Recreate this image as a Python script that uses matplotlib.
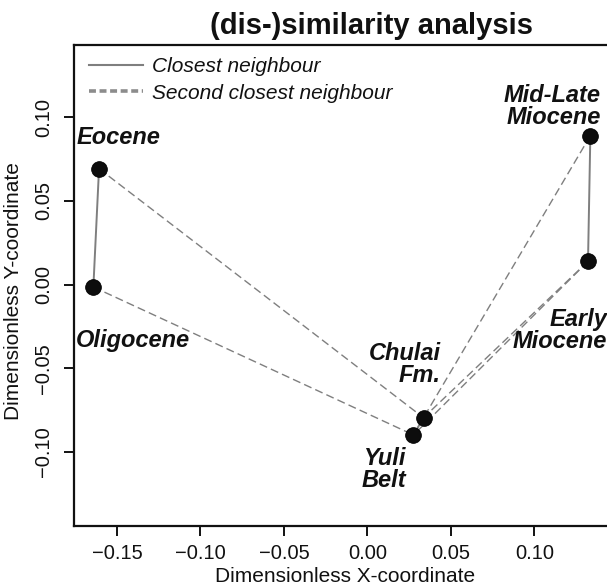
import matplotlib
matplotlib.use("Agg")
import matplotlib.pyplot as plt
from matplotlib.lines import Line2D

plt.rcParams['font.family'] = ['Liberation Sans', 'DejaVu Sans']
plt.rcParams['lines.scale_dashes'] = False

# ---- data ----
names = ["Eocene", "Oligocene", "Mid-Late Miocene", "Early Miocene", "Chulai Fm.", "Yuli Belt"]
labels = ["Eocene", "Oligocene", "Mid-Late\nMiocene", "Early\nMiocene", "Chulai\nFm.", "Yuli\nBelt"]
x_coord = [-0.1607, -0.1641, 0.1335, 0.1321, 0.0336, 0.0276]
y_coord = [0.0693, -0.0014, 0.0890, 0.0139, -0.0795, -0.0898]

closest_pairs = [("Eocene", "Oligocene"), ("Mid-Late Miocene", "Early Miocene"),
                 ("Chulai Fm.", "Yuli Belt")]
second_pairs = [("Eocene", "Chulai Fm."), ("Oligocene", "Yuli Belt"),
                ("Mid-Late Miocene", "Chulai Fm."), ("Early Miocene", "Chulai Fm."),
                ("Early Miocene", "Yuli Belt")]

x_ticks = [-0.15, -0.10, -0.05, 0.00, 0.05, 0.10]
x_tick_labels = ["\u22120.15", "\u22120.10", "\u22120.05", "0.00", "0.05", "0.10"]
y_ticks = [-0.10, -0.05, 0.00, 0.05, 0.10]
y_tick_labels = ["\u22120.10", "\u22120.05", "0.00", "0.05", "0.10"]

title = "(dis-)similarity analysis"
x_label = "Dimensionless X-coordinate"
y_label = "Dimensionless Y-coordinate"
legend_labels = ["Closest neighbour", "Second closest neighbour"]

# ---- label placement (offset in points, horizontal alignment) ----
label_style = {
    "Eocene": ((14.1, 22.3), "center"),
    "Oligocene": ((28.5, -38.4), "center"),
    "Mid-Late Miocene": ((7.6, 20.9), "right"),
    "Early Miocene": ((13.7, -49.9), "right"),
    "Chulai Fm.": ((12.6, 38.5), "right"),
    "Yuli Belt": ((-21.2, -25.0), "center"),
}

W, H = 607, 585
fig = plt.figure(figsize=(W / 100, H / 100), dpi=100)
ax = fig.add_axes([73.6 / W, 59 / H, (610 - 73.6) / W, (526 - 45) / H])
ax.set_xlim(-0.17593, 0.14527)
ax.set_ylim(-0.1442, 0.1432)

idx = {n: i for i, n in enumerate(names)}
gray = "#7f7f7f"
for a, b in second_pairs:
    i, j = idx[a], idx[b]
    ax.plot([x_coord[i], x_coord[j]], [y_coord[i], y_coord[j]], color=gray,
            lw=1.0, dashes=(5.8, 3.0), zorder=2)
for a, b in closest_pairs:
    i, j = idx[a], idx[b]
    ax.plot([x_coord[i], x_coord[j]], [y_coord[i], y_coord[j]], color=gray,
            lw=1.4, zorder=2)

ax.plot(x_coord, y_coord, linestyle="none", marker="o", markersize=11.3,
        markerfacecolor="#0d0d0d", markeredgecolor="#000000", markeredgewidth=0.6, zorder=3)

for n, lab, xv, yv in zip(names, labels, x_coord, y_coord):
    off, ha = label_style[n]
    ax.annotate(lab, (xv, yv), xytext=off, textcoords="offset points",
                ha=ha, va="center", fontsize=17, fontweight="bold", fontstyle="italic",
                linespacing=0.95, multialignment=ha, color="#111111", zorder=4)

ax.set_xticks(x_ticks)
ax.set_xticklabels(x_tick_labels)
ax.set_yticks(y_ticks)
ax.set_yticklabels(y_tick_labels, rotation=90, va="center")
ax.tick_params(axis="both", direction="out", length=7, width=1.4, labelsize=14.5,
               colors="#111111")
ax.tick_params(axis="x", pad=6)
ax.tick_params(axis="y", pad=8)
for s in ax.spines.values():
    s.set_linewidth(1.6)
    s.set_color("#111111")

handles = [Line2D([], [], color=gray, lw=1.5),
           Line2D([], [], color="#8c8c8c", lw=2.6, dashes=(5.0, 2.6))]
leg = ax.legend(handles, legend_labels, loc="upper left", bbox_to_anchor=(0.0287, 0.9744),
                frameon=False, borderpad=0, borderaxespad=0, handlelength=2.6,
                handletextpad=0.43, labelspacing=0.35,
                prop={"size": 15, "style": "italic"})
for t in leg.get_texts():
    t.set_color("#111111")

fig.text(371.7 / W, 1 - 26 / H, title, ha="center", va="center", fontsize=21,
         fontweight="bold", color="#111111")
fig.text(345 / W, 1 - 576 / H, x_label, ha="center", va="center", fontsize=15, color="#111111")
fig.text(14 / W, 1 - 290.8 / H, y_label, ha="center", va="center", rotation=90,
         fontsize=15, color="#111111")

fig.savefig("out.png", dpi=100)
